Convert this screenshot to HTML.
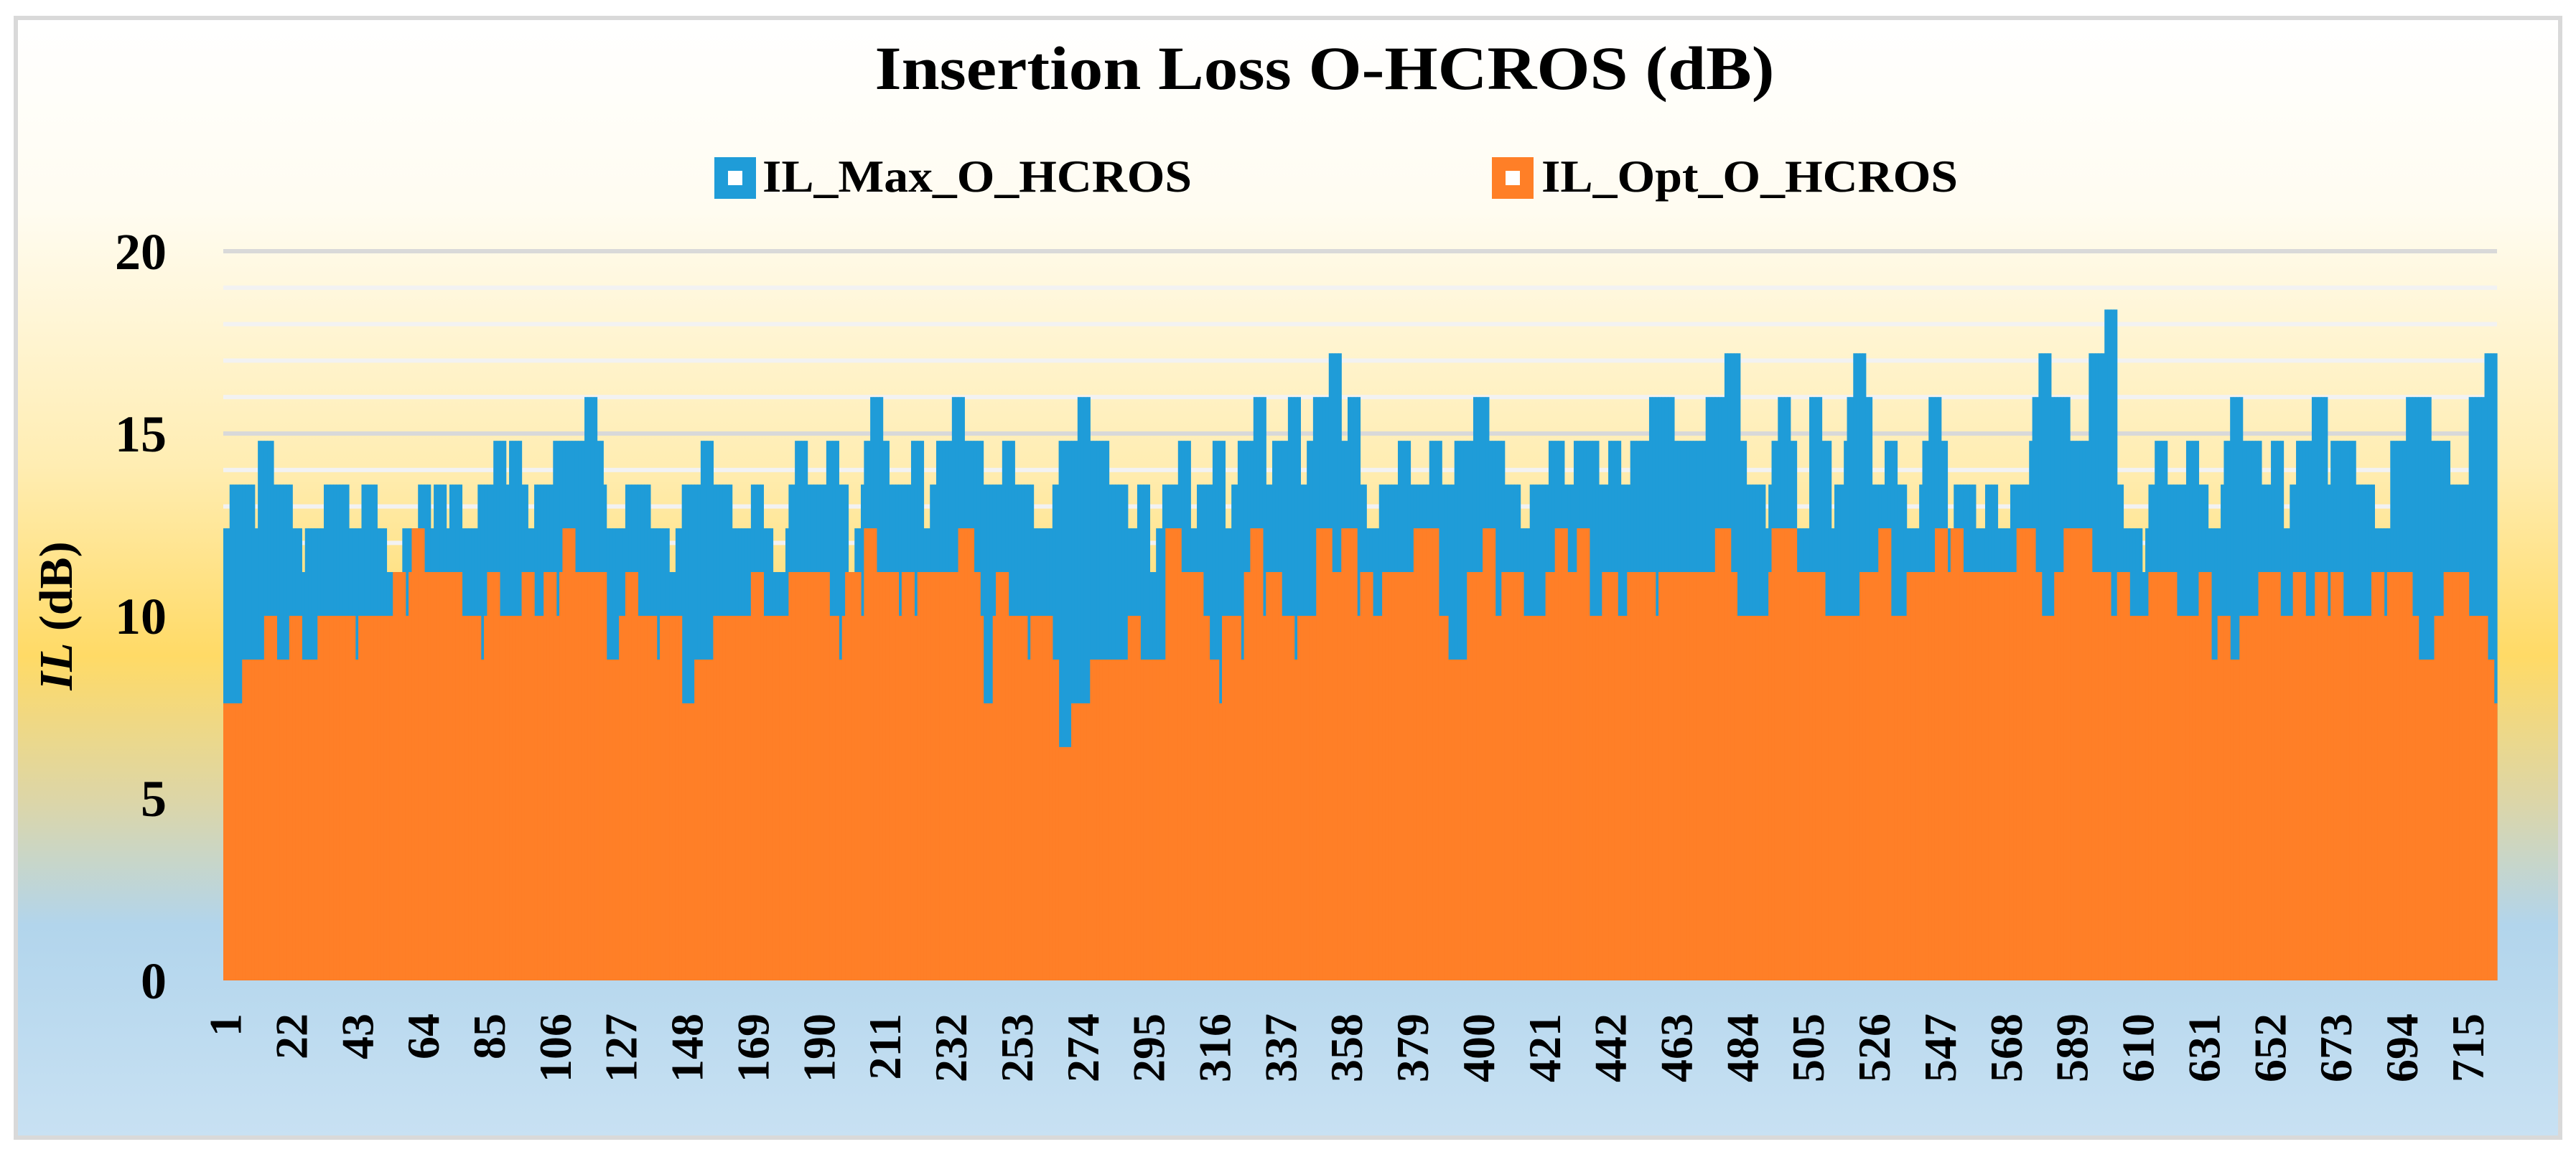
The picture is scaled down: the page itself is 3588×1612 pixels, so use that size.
<!DOCTYPE html>
<html><head><meta charset="utf-8"><style>
html,body{margin:0;padding:0;background:#fff;}
svg{display:block;}
text{font-family:"Liberation Serif",serif;font-weight:bold;fill:#000;}
</style></head>
<body>
<svg id="chart" width="3588" height="1612" viewBox="0 0 3588 1612" xmlns="http://www.w3.org/2000/svg">
<defs>
<linearGradient id="bg" x1="0" y1="0" x2="0" y2="1">
<stop offset="0" stop-color="#ffffff"/>
<stop offset="0.17" stop-color="#fffcf1"/>
<stop offset="0.40" stop-color="#ffedb2"/>
<stop offset="0.57" stop-color="#ffda66"/>
<stop offset="0.70" stop-color="#dcd6a8"/>
<stop offset="0.81" stop-color="#b2d5ec"/>
<stop offset="1" stop-color="#c8e1f3"/>
</linearGradient>
</defs>
<rect x="22" y="25" width="3544" height="1560" fill="url(#bg)" stroke="#d9d9d9" stroke-width="6"/>
<text x="1845" y="124" font-size="86" text-anchor="middle" textLength="1253" lengthAdjust="spacingAndGlyphs">Insertion Loss O-HCROS (dB)</text>
<g>
<rect x="995" y="219" width="58" height="58" fill="#1f9cd8"/>
<rect x="1014" y="238" width="20" height="20" fill="#fff"/>
<text x="1062" y="267" font-size="64" textLength="598" lengthAdjust="spacingAndGlyphs">IL_Max_O_HCROS</text>
</g>
<g>
<rect x="2078" y="219" width="58" height="58" fill="#ff7f27"/>
<rect x="2097" y="238" width="20" height="20" fill="#fff"/>
<text x="2147" y="267" font-size="64" textLength="580" lengthAdjust="spacingAndGlyphs">IL_Opt_O_HCROS</text>
</g>
<g id="grid"></g>
<g id="bars"></g>
<g id="yaxis"></g>
<g id="xaxis"></g>
<text transform="translate(100,858) rotate(-90)" font-size="66" text-anchor="middle"><tspan font-style="italic">IL</tspan> (dB)</text>
</svg>
<script>
const yTicks = [0, 5, 10, 15, 20];
const xTickLabels = [1,22,43,64,85,106,127,148,169,190,211,232,253,274,295,316,337,358,379,400,421,442,463,484,505,526,547,568,589,610,631,652,673,694,715];

const maxDb1 = [12.4,13.6,12.4,14.8,13.6,12.4,11.2,12.4,13.6,12.4,13.6,12.4,11.2,12.4,13.6,12.4,13.6,12.4,13.6,12.4,13.6,14.8,13.6,14.8,13.6,12.4,13.6,14.8,16,14.8,13.6,12.4,13.6,12.4,11.2,12.4,13.6,14.8,13.6,12.4,13.6,12.4,11.2,12.4];
const maxRun1 = [2,8,1,5,6,3,1,6,8,4,5,3,5,5,4,1,4,1,4,5,5,4,1,4,2,2,6,10,4,2,1,6,8,6,2,2,6,4,6,6,4,3,4,1];
const maxDb2 = [13.6,14.8,13.6,14.8,13.6,11.2,12.4,13.6,14.8,16,14.8,13.6,14.8,12.4,13.6,14.8,16,14.8,13.6,14.8,13.6,12.4,13.6,14.8,16,14.8,13.6,12.4,13.6,11.2,12.4,13.6,14.8,12.4,13.6,14.8,12.4,13.6,14.8,16,13.6,14.8,16,13.6,14.8,16,17.2,14.8];
const maxRun2 = [2,4,6,4,3,2,2,1,2,4,2,7,4,2,2,5,4,6,6,4,6,6,2,6,4,6,6,3,4,2,2,5,4,2,5,4,2,2,5,4,2,5,4,2,2,5,4,2];
const maxDb3 = [16,13.6,12.4,13.6,14.8,13.6,14.8,13.6,14.8,16,14.8,13.6,12.4,13.6,14.8,13.6,14.8,13.6,14.8,13.6,14.8,16,14.8,16,17.2,14.8,13.6,12.4,13.6,14.8,16,14.8,12.4,16,14.8,12.4,13.6,14.8,16,17.2,16,13.6,14.8,13.6,12.4,13.6];
const maxRun3 = [4,2,4,6,4,6,4,4,6,5,5,5,3,6,5,3,8,3,4,3,6,8,10,6,5,2,6,1,1,2,4,2,4,4,3,1,3,1,2,4,2,4,4,3,4,1];
const maxDb4 = [14.8,16,14.8,12.4,13.6,12.4,13.6,12.4,13.6,14.8,16,17.2,16,14.8,17.2,18.4,13.6,12.4,11.2,12.4,13.6,14.8,13.6,14.8,13.6,12.4,13.6,14.8,16,14.8,13.6,14.8,12.4,13.6,14.8,16,13.6,14.8,13.6,12.4,14.8,16,14.8,13.6,16,17.2];
const maxRun4 = [2,4,2,2,7,3,4,4,6,1,2,4,6,6,5,4,2,6,1,1,2,4,6,4,3,4,1,2,4,6,3,4,2,2,5,5,1,8,6,5,5,8,6,6,5,4];

const optDb1 = [7.6,8.8,10,8.8,10,8.8,10,8.8,10,11.2,10,11.2,12.4,11.2,10,8.8,10,11.2,10,11.2,10,11.2,10,11.2,12.4,11.2,8.8,10,11.2,10,8.8,10,7.6,8.8,10,11.2,10];
const optRun1 = [6,7,4,4,4,5,12,1,11,4,1,1,4,12,6,1,1,4,7,4,3,4,1,1,4,10,4,2,4,6,1,7,4,6,12,4,8];
const optDb2 = [11.2,10,8.8,10,11.2,10,12.4,11.2,10,11.2,10,11.2,12.4,11.2,10,7.6,10,11.2,10,8.8,10,8.8,6.4,7.6,8.8,10,8.8,12.4,11.2,10,8.8,7.6,10,8.8,11.2,12.4,10,11.2,10,8.8,10,12.4,11.2,12.4];
const optRun2 = [13,3,1,1,5,1,4,7,1,4,1,13,5,2,1,3,1,4,6,1,7,2,4,6,12,4,8,5,7,2,3,1,6,1,2,4,1,5,4,1,6,5,3,5];
const optDb3 = [10,11.2,10,11.2,12.4,10,8.8,11.2,12.4,10,11.2,10,11.2,12.4,11.2,12.4,10,11.2,10,11.2,10,11.2,12.4,11.2,10,11.2,12.4,11.2,10,11.2,12.4,10,11.2];
const optRun3 = [1,4,3,10,8,3,6,5,4,2,7,7,3,4,3,4,4,5,3,9,1,18,5,2,10,1,8,9,11,6,4,5,5];
const optDb4 = [11.2,12.4,11.2,12.4,11.2,12.4,11.2,10,11.2,12.4,11.2,10,11.2,10,11.2,10,11.2,8.8,10,8.8,10,11.2,10,11.2,10,11.2,10,11.2,10,11.2,10,11.2,10,8.8,10,11.2,10,8.8,7.6];
const optRun4 = [4,4,1,4,17,6,2,4,3,9,6,2,4,6,9,7,4,2,4,3,6,7,4,4,3,4,1,4,9,4,1,8,2,5,3,8,6,2,1];

function expand(vals, runs){const o=[];for(let i=0;i<vals.length;i++){for(let k=0;k<runs[i];k++)o.push(vals[i]);}return o;}
const maxSeries = [].concat(expand(maxDb1,maxRun1),expand(maxDb2,maxRun2),expand(maxDb3,maxRun3),expand(maxDb4,maxRun4));
const optSeries = [].concat(expand(optDb1,optRun1),expand(optDb2,optRun2),expand(optDb3,optRun3),expand(optDb4,optRun4));

const NS="http://www.w3.org/2000/svg";
const X0=311, X1=3478, Y0=1366, PXPERDB=50.8;
const N=Math.max(maxSeries.length, optSeries.length);
const bw=(X1-X0)/N;
function xPos(i){return X0+i*bw;}
function yPos(v){return Y0-v*PXPERDB;}

const grid=document.getElementById('grid');
for(let v=1; v<=20; v++){
  const l=document.createElementNS(NS,'rect');
  
  
  l.setAttribute('x',X0);l.setAttribute('y',yPos(v)-3);l.setAttribute('width',X1-X0);l.setAttribute('height',6);
  l.setAttribute('fill', v%5===0 ? '#d9d9d9' : '#f2f2f2');
  grid.appendChild(l);
}
const bars=document.getElementById('bars');
function drawSeries(series, color, name){
  for(let i=0;i<series.length;i++){
    const r=document.createElementNS(NS,'rect');
    
    
    r.setAttribute('x',xPos(i));r.setAttribute('width',bw+0.6);
    r.setAttribute('y',yPos(series[i]));r.setAttribute('height',Y0-yPos(series[i]));
    r.setAttribute('fill',color);
    bars.appendChild(r);
  }
}
drawSeries(maxSeries,'#1f9cd8','bar-il-max');
drawSeries(optSeries,'#ff7f27','bar-il-opt');

const yax=document.getElementById('yaxis');
yTicks.forEach(v=>{
  const t=document.createElementNS(NS,'text');
  
  
  t.setAttribute('x',232);t.setAttribute('y',yPos(v)+25);t.setAttribute('font-size','72');t.setAttribute('text-anchor','end');
  t.textContent=v;yax.appendChild(t);
});
const xax=document.getElementById('xaxis');
xTickLabels.forEach(c=>{
  const cx=X0+(c-0.5)*bw, ty=1412;
  const t=document.createElementNS(NS,'text');
  
  
  t.setAttribute('x',cx);t.setAttribute('y',ty);t.setAttribute('dy','0.35em');
  t.setAttribute('font-size','64');t.setAttribute('text-anchor','end');
  t.setAttribute('transform','rotate(-90 '+cx+' '+ty+')');
  t.textContent=c;xax.appendChild(t);
});
</script>
</body></html>
